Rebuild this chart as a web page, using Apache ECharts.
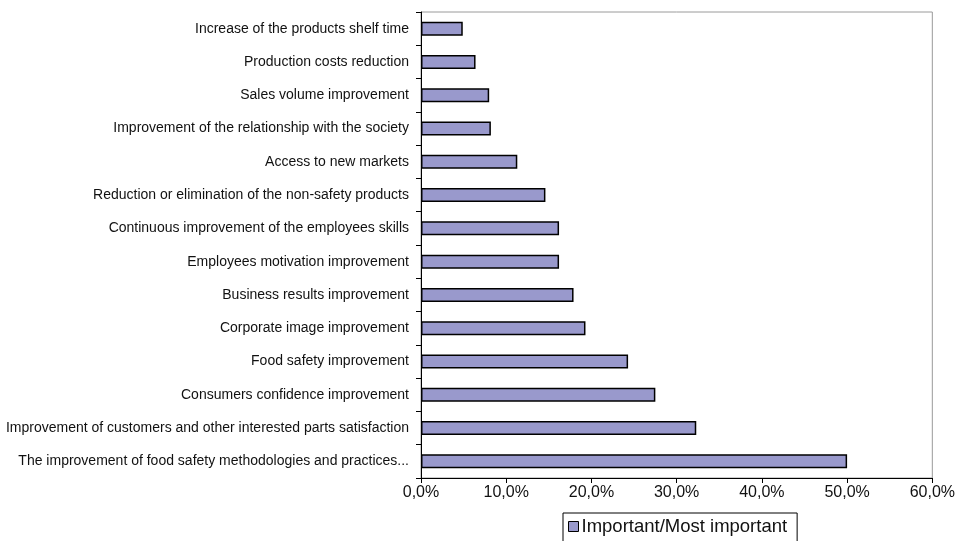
<!DOCTYPE html>
<html><head><meta charset="utf-8">
<script src="https://cdn.jsdelivr.net/npm/echarts@6/dist/echarts.min.js"></script>
<style>html,body{margin:0;padding:0;background:#fff}#c{width:958px;height:541px}</style>
</head><body><div id="c"></div>
<script>
const categories = [
  "Increase of the products shelf time",
  "Production costs reduction",
  "Sales volume improvement",
  "Improvement of the relationship with the society",
  "Access to new markets",
  "Reduction or elimination of the non-safety products",
  "Continuous improvement of the employees skills",
  "Employees motivation improvement",
  "Business results improvement",
  "Corporate image improvement",
  "Food safety improvement",
  "Consumers confidence improvement",
  "Improvement of customers and other interested parts satisfaction",
  "The improvement of food safety methodologies and practices..."
];
const seriesName = "Important/Most important";
const values = [4.9, 6.4, 8.0, 8.2, 11.3, 14.6, 16.2, 16.2, 17.9, 19.3, 24.3, 27.5, 32.3, 50.0];
const xTicks = [0, 10, 20, 30, 40, 50, 60];

const chart = echarts.init(document.getElementById('c'));
chart.setOption({
  animation: false,
  textStyle: {fontFamily: 'Liberation Sans, Arial, sans-serif'},
  grid: {left: 421, right: 25, top: 12, bottom: 63, show: true, borderColor: '#9a9a9a', borderWidth: 1},
  legend: {
    data: [seriesName], left: 563, top: 513,
    padding: [4, 10, 20, 5],
    borderColor: '#000', borderWidth: 1,
    icon: 'rect', itemWidth: 10, itemHeight: 10, itemGap: 3,
    textStyle: {fontSize: 18.5, color: '#111', fontFamily: 'Liberation Sans, Arial, sans-serif', padding: [0, 0, 0, -2]},
    itemStyle: {borderColor: '#000', borderWidth: 1}
  },
  xAxis: {
    type: 'value', min: xTicks[0], max: xTicks[xTicks.length - 1], interval: 10,
    axisLine: {show: true, lineStyle: {color: '#000', width: 1}},
    axisTick: {show: true, length: 5, lineStyle: {color: '#000'}},
    splitLine: {show: false},
    axisLabel: {fontSize: 16, color: '#111', margin: 7,
      formatter: v => v.toFixed(1).replace('.', ',') + '%'}
  },
  yAxis: {
    type: 'category', data: categories, inverse: true,
    axisLine: {show: true, lineStyle: {color: '#000', width: 1}},
    axisTick: {show: true, length: 5, interval: 0, lineStyle: {color: '#000'}},
    axisLabel: {fontSize: 14, color: '#111', margin: 12, interval: 0}
  },
  series: [{
    name: seriesName, type: 'bar', data: values, barWidth: 14,
    itemStyle: {color: '#9999cc', borderColor: '#000', borderWidth: 1.5}
  }]
});
</script></body></html>
